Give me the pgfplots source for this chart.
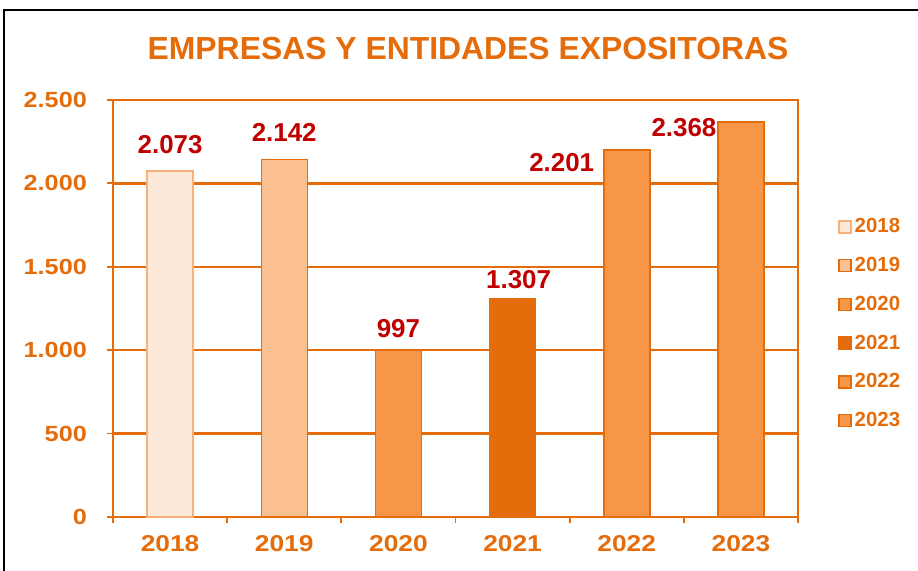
\documentclass[border=0pt]{standalone}
\usepackage{fontspec}
\setmainfont{Liberation Sans}
\newfontfamily\stretchfont{Liberation Sans}[FakeStretch=1.15]
\usepackage{pgfplots}
\pgfplotsset{compat=1.18}
\definecolor{oc}{HTML}{E46C0A}
\definecolor{lab}{HTML}{C00000}
\definecolor{c18}{HTML}{FDE9D9}
\definecolor{b18}{HTML}{F9B07A}
\definecolor{c19}{HTML}{FAC090}
\definecolor{c20}{HTML}{F79646}
\begin{document}
\begin{tikzpicture}
\path[use as bounding box] (0,0) rectangle (918bp,571bp);
\draw[black, line width=1.5bp] (4bp,0) -- (4bp,561bp) -- (918bp,561bp);
\node[anchor=base, text=oc, font=\fontsize{32}{32}\selectfont\bfseries, inner sep=0pt] at (468bp,511bp) {EMPRESAS Y ENTIDADES EXPOSITORAS};
\begin{axis}[
  at={(113bp,54bp)}, anchor=south west, scale only axis,
  width=685bp, height=417bp,
  ybar, bar width=46bp, bar shift=0pt,
  clip=false,
  xmin=-0.5, xmax=5.5, ymin=0, ymax=2500,
  ytick={0,500,1000,1500,2000,2500},
  xtick={-0.5,0.5,1.5,2.5,3.5,4.5,5.5},
  xticklabels={},
  extra x ticks={0,1,2,3,4,5},
  extra x tick labels={2018,2019,2020,2021,2022,2023},
  extra x tick style={major tick length=0pt},
  xtick pos=bottom, ytick pos=left,
  tick align=outside, major tick length=6bp,
  tick style={oc, line width=1.8bp},
  axis line style={oc, line width=2.3bp},
  ymajorgrids, grid style={oc, line width=2.3bp},
  /pgf/number format/.cd, 1000 sep={.}, assume math mode=true, /pgfplots/.cd,
  yticklabel style={font=\fontsize{22}{22}\stretchfont\bfseries, text=oc, inner sep=0pt, anchor=east, xshift=-20bp},
  xticklabel style={font=\fontsize{23}{23}\stretchfont\bfseries, text=oc, inner sep=0pt, anchor=north, yshift=-18bp},
  nodes near coords,
  every node near coord/.append style={font=\fontsize{26}{26}\selectfont\bfseries, text=lab, inner sep=0pt},
  legend image code/.code={\draw[#1, line width=1.5bp] (0bp,-7.5bp) rectangle (12bp,4.5bp);},
  legend style={at={(1.0584,0.718)}, anchor=north west, draw=none, fill=none, inner sep=0pt,
    font=\fontsize{20.5}{20.5}\selectfont\bfseries, text=oc, row sep=23bp,
    nodes={inner sep=0pt, text height=15bp, text depth=0pt},
    /tikz/every odd column/.append style={column sep=3bp}},
  legend cell align=left,
]
\addplot[fill=c18, draw=b18, line width=1.5bp, every node near coord/.append style={anchor=base, yshift=18bp}] coordinates {(0,2073)};
\addplot[fill=c19, draw=oc, line width=1.5bp, every node near coord/.append style={anchor=base, yshift=18bp}] coordinates {(1,2142)};
\addplot[fill=c20, draw=oc, line width=1.5bp, every node near coord/.append style={anchor=base, yshift=13bp}] coordinates {(2,997)};
\addplot[fill=oc, draw=oc, line width=1.5bp, every node near coord/.append style={anchor=base, yshift=10bp, xshift=6bp}] coordinates {(3,1307)};
\addplot[fill=c20, draw=oc, line width=1.5bp, every node near coord/.append style={anchor=base, yshift=-22bp, xshift=-65bp}] coordinates {(4,2201)};
\addplot[fill=c20, draw=oc, line width=1.5bp, every node near coord/.append style={anchor=base, yshift=-14bp, xshift=-57bp}] coordinates {(5,2368)};
\legend{2018,2019,2020,2021,2022,2023}
\end{axis}
\end{tikzpicture}
\end{document}
